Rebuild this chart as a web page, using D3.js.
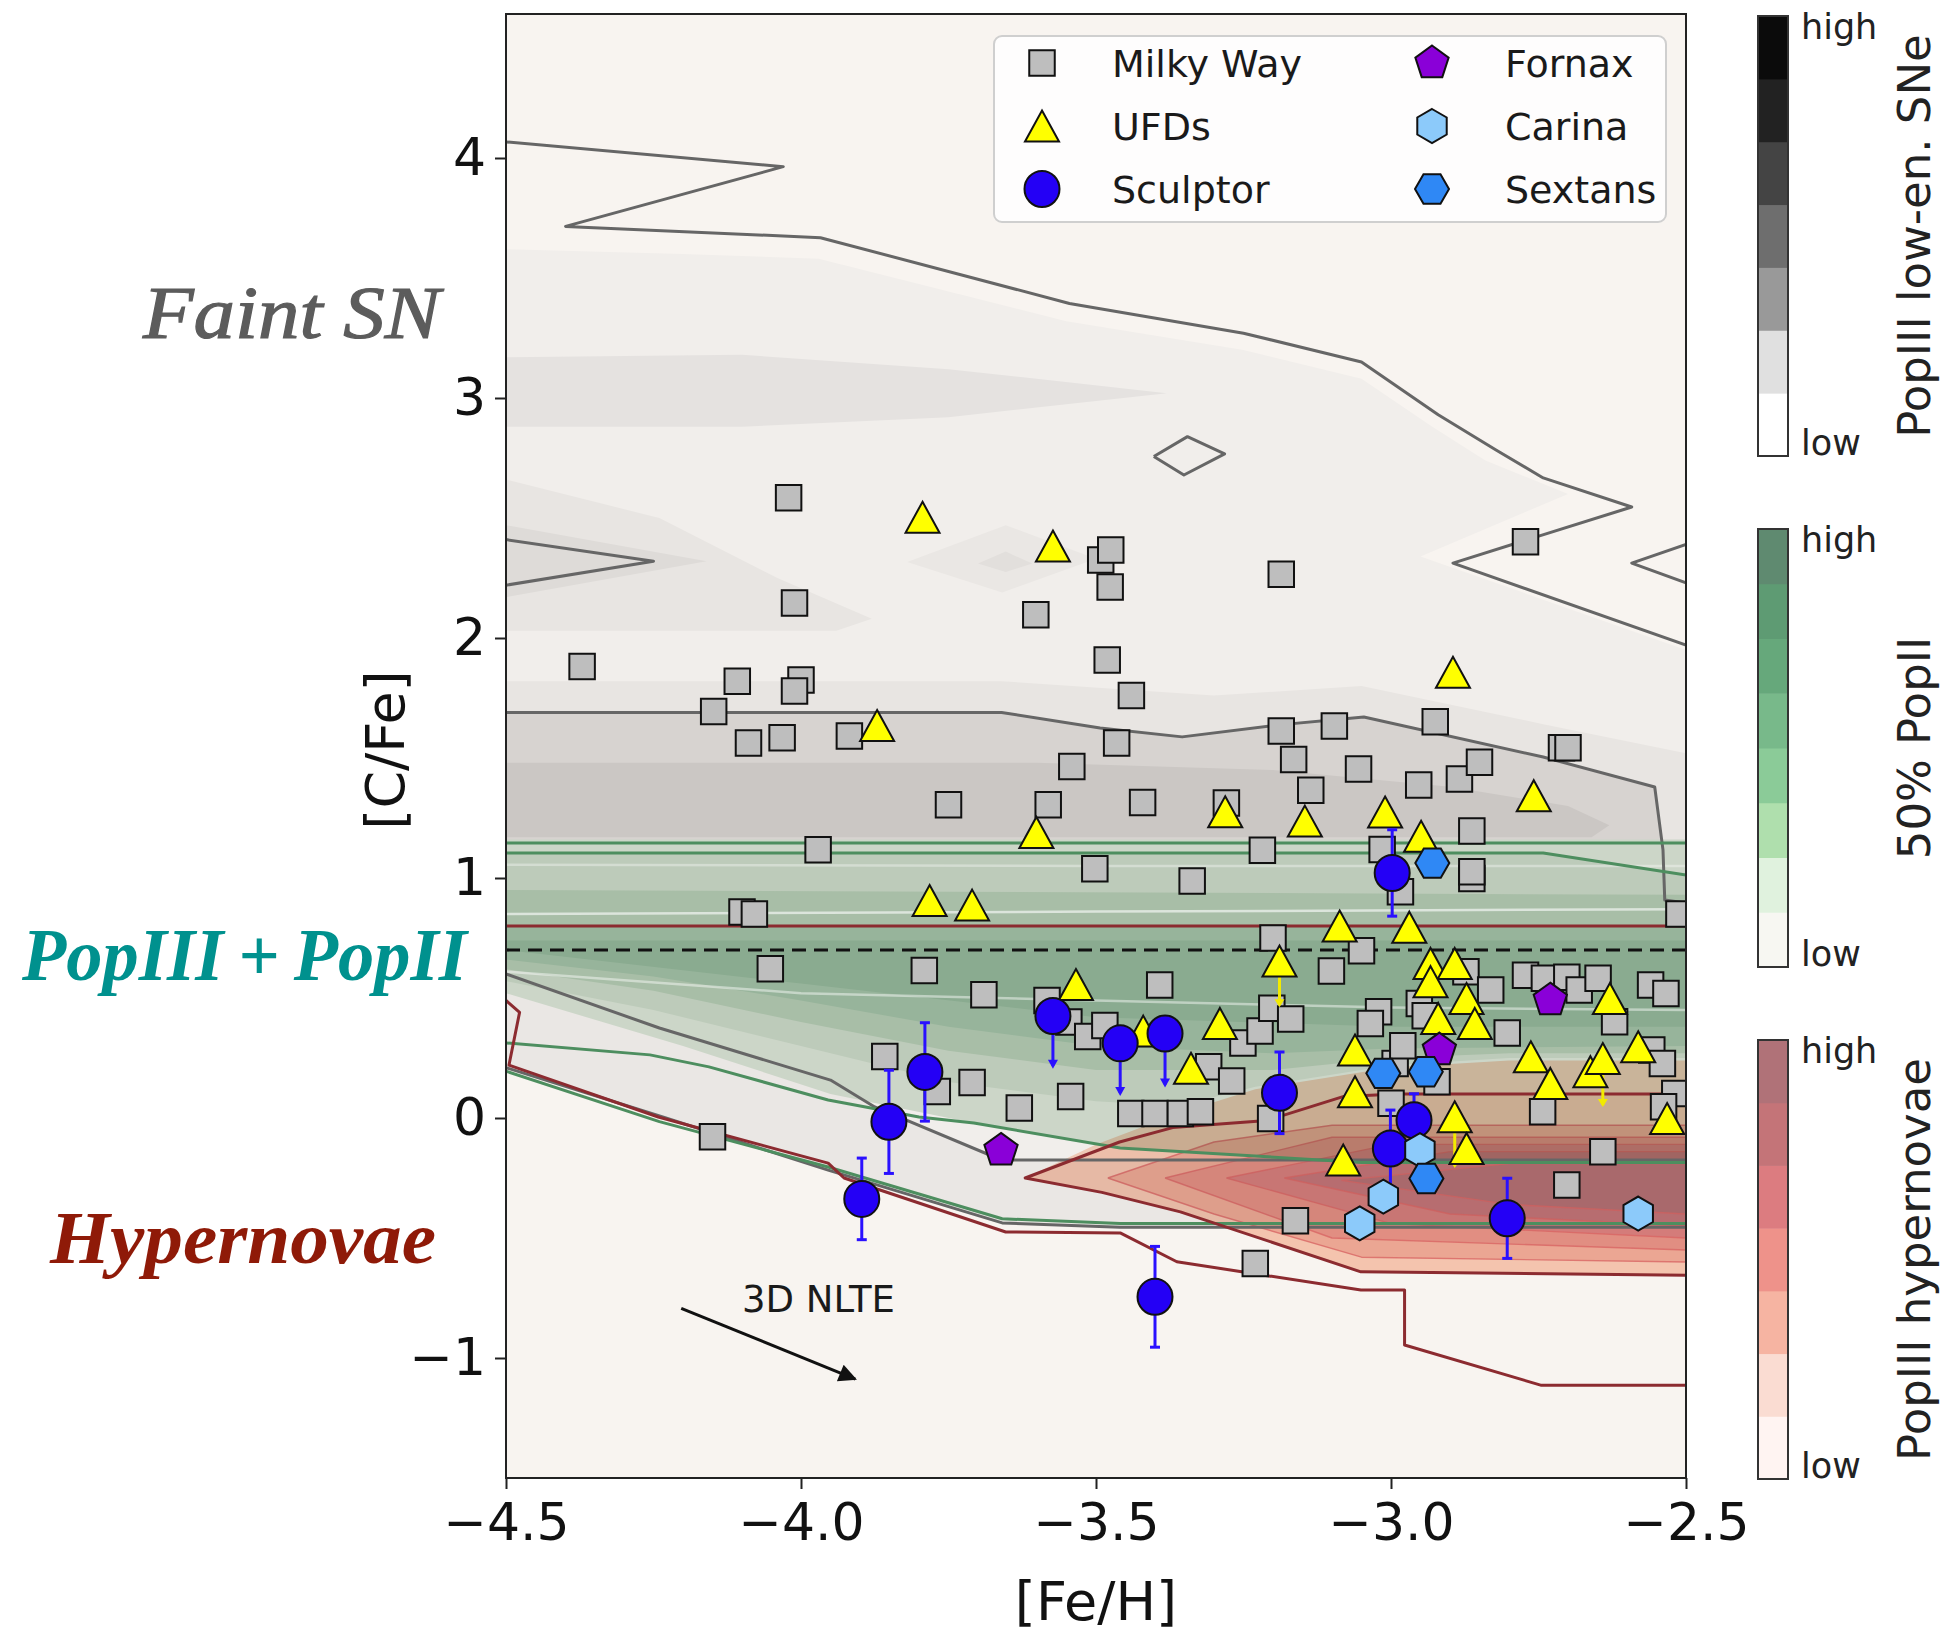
<!DOCTYPE html>
<html>
<head>
<meta charset="utf-8">
<script src="https://cdn.jsdelivr.net/npm/d3@7"></script>
<style>
  body { margin: 0; background: #ffffff; }
  svg { display: block; }
</style>
</head>
<body>
<svg id="chart" width="1949" height="1633"></svg>
<script>
// ---------------- Stellar abundances: [Fe/H] and [C/Fe] ----------------
const milkyWayFeH = [-4.371,-4.150,-4.148,-4.108,-4.100,-4.079,-4.089,-4.052,-4.032,-4.021,-4.011,-4.000,-4.011,-3.971,-3.918,-3.858,-3.791,-3.769,-3.750,-3.710,-3.690,-3.630,-3.602,-3.581,-3.583,-3.541,-3.543,-3.546,-3.514,-3.485,-3.502,-3.492,-3.475,-3.476,-3.481,-3.465,-3.440,-3.421,-3.441,-3.400,-3.392,-3.357,-3.337,-3.323,-3.279,-3.309,-3.270,-3.251,-3.222,-3.218,-3.204,-3.202,-3.200,-3.186,-3.186,-3.170,-3.165,-3.162,-3.136,-3.230,-3.101,-3.096,-3.055,-3.050,-3.021,-3.035,-3.015,-2.993,-2.984,-2.980,-3.000,-2.953,-2.952,-2.942,-2.925,-2.922,-2.884,-2.873,-2.863,-2.863,-2.863,-2.850,-2.831,-2.803,-2.772,-2.772,-2.743,-2.740,-2.711,-2.700,-2.702,-2.702,-2.681,-2.649,-2.641,-2.621,-2.560,-2.534,-2.558,-2.540,-2.519,-2.538,-2.512];
const milkyWayCFe = [1.881,-0.078,1.694,1.820,0.858,0.850,1.563,0.622,1.584,2.584,2.146,1.825,1.779,1.118,1.592,0.256,0.615,0.110,1.305,0.148,0.514,0.042,2.097,1.305,0.490,1.465,0.090,0.400,0.340,0.385,1.039,2.325,2.367,2.213,1.908,1.562,1.760,1.315,0.019,0.019,0.554,0.019,0.988,0.026,1.312,0.214,0.154,0.313,0.362,1.116,-0.002,0.457,0.750,2.266,1.612,0.412,1.494,-0.428,1.366,-0.606,0.612,1.633,1.454,0.697,0.443,0.394,1.119,0.227,0.943,0.301,0.061,1.387,0.477,0.426,1.651,0.151,1.412,0.609,1.196,0.998,1.026,1.482,0.533,0.354,2.401,0.595,0.026,0.582,1.543,1.543,0.586,-0.279,0.533,0.582,-0.141,0.401,0.554,0.519,0.283,0.227,0.102,0.047,0.850];

const ufdFeH = [-3.794,-3.573,-3.871,-2.895,-3.601,-3.281,-3.146,-3.010,-2.949,-2.758,-3.782,-3.710,-3.087,-2.969,-3.534,-3.420,-3.290,-3.339,-3.189,-3.061,-3.061,-3.081,-2.933,-2.892,-2.933,-2.872,-2.920,-2.858,-2.892,-2.872,-2.763,-2.730,-2.662,-2.641,-2.629,-2.581,-2.532];
const ufdCFe = [2.503,2.383,1.635,1.857,1.190,1.276,1.237,1.275,1.174,1.343,0.906,0.887,0.800,0.795,0.556,0.362,0.394,0.207,0.654,0.283,0.109,-0.175,0.644,0.644,0.568,0.498,0.415,0.394,0.005,-0.127,0.255,0.144,0.193,0.248,0.498,0.297,-0.002];
// UFD upper limits: star index and the [C/Fe] the limit arrow reaches
const ufdLimitIndex = [18, 28, 33];
const ufdLimitTo = [0.47, -0.20, 0.054];

const sculptorFeH = [-2.998,-3.573,-3.459,-3.383,-3.189,-2.961,-3.001,-2.803,-3.400,-3.790,-3.851,-3.897];
const sculptorCFe = [1.021,0.425,0.311,0.352,0.105,-0.009,-0.127,-0.418,-0.745,0.192,-0.016,-0.337];
const sculptorErr = [0.18,0.207,0.207,0.212,0.17,0.11,0.16,0.167,0.21,0.205,0.215,0.17];
const sculptorUpperLimit = [false,true,true,true,false,false,false,false,false,false,false,false];

const fornaxFeH = [-3.661,-2.918,-2.730];
const fornaxCFe = [-0.135,0.283,0.491];
const carinaFeH = [-2.951,-3.013,-3.053,-2.581];
const carinaCFe = [-0.134,-0.328,-0.439,-0.398];
const sextansFeH = [-3.013,-2.941,-2.940,-2.930];
const sextansCFe = [0.186,0.193,-0.252,1.062];

// ---------------- Model density contours ([Fe/H], [C/Fe]) ----------------
// PopIII low-energy (faint) supernovae
const faintFillOuter = [[-4.5,3.62],[-4.2,3.6],[-3.97,3.58],[-3.55,3.32],[-3.25,3.2],[-3.05,3.08],[-2.93,2.88],[-2.84,2.74],[-2.7,2.6],[-2.95,2.34],[-2.5,1.95],[-2.5,-0.455],[-3.459,-0.455],[-3.659,-0.437],[-3.954,-0.217],[-4.229,0.0],[-4.5,0.21]];
const faintFillBand3 = [[-4.5,3.17],[-4.1,3.18],[-3.75,3.12],[-3.38,3.02],[-3.75,2.92],[-4.1,2.88],[-4.5,2.88]];
const faintFillBand2 = [[-4.5,2.66],[-4.24,2.50],[-4.04,2.25],[-3.88,2.08],[-3.94,2.03],[-4.5,2.03]];
const faintFillWedge = [[-4.5,2.47],[-4.16,2.32],[-4.5,2.17]];
const faintFillDiamond = [[-3.82,2.317],[-3.653,2.47],[-3.50,2.33],[-3.659,2.19]];
const faintFillDiamondCore = [[-3.70,2.31],[-3.653,2.36],[-3.608,2.31],[-3.653,2.275]];
const faintFillBelt = [[-4.5,1.82],[-3.66,1.82],[-3.3,1.76],[-3.05,1.8],[-2.74,1.64],[-2.5,1.52],[-2.5,0.8],[-4.5,0.8]];
const faintFillCore = [[-4.5,1.69],[-3.66,1.69],[-3.493,1.625],[-3.354,1.588],[-3.19,1.638],[-3.046,1.671],[-2.742,1.504],[-2.553,1.379],[-2.539,1.117],[-2.536,0.908],[-2.5,0.896],[-2.5,0.8],[-4.5,0.8]];
const faintFillPeak = [[-4.5,1.48],[-3.6,1.48],[-3.2,1.45],[-2.9,1.38],[-2.7,1.3],[-2.63,1.22],[-2.66,1.17],[-4.5,1.17]];
const faintFillLobe = [[-4.5,0.6],[-4.24,0.375],[-3.95,0.158],[-3.875,0.046],[-3.66,-0.175],[-2.5,-0.175],[-2.5,-0.455],[-3.459,-0.455],[-3.659,-0.437],[-3.954,-0.217],[-4.229,0.0],[-4.5,0.21]];

const faintLines = [
  [[-4.5,4.067],[-4.03,3.964],[-4.399,3.715],[-3.967,3.668],[-3.545,3.394],[-3.25,3.27],[-3.05,3.15],[-2.92,2.93],[-2.822,2.783],[-2.742,2.667],[-2.592,2.546],[-2.895,2.312],[-2.5,1.97]],
  [[-4.5,2.41],[-4.25,2.32],[-4.5,2.22]],
  [[-2.5,2.39],[-2.592,2.312],[-2.5,2.23]],
  [[-3.402,2.756],[-3.345,2.839],[-3.282,2.767],[-3.351,2.679],[-3.402,2.756]],
  [[-4.5,1.69],[-3.66,1.69],[-3.493,1.625],[-3.354,1.588],[-3.19,1.638],[-3.046,1.671],[-2.742,1.504],[-2.553,1.379],[-2.539,1.117],[-2.536,0.908],[-2.5,0.896]],
  [[-4.5,0.6],[-4.24,0.375],[-3.95,0.158],[-3.875,0.046],[-3.66,-0.175],[-2.5,-0.175]],
  [[-4.5,0.21],[-4.229,0.0],[-3.954,-0.217],[-3.659,-0.437],[-3.459,-0.455],[-2.5,-0.455]]
];

// 50% PopII enrichment, lightest level first
const popIIFills = [
  [[-4.5,1.16],[-2.5,1.16],[-2.5,-0.19],[-3.05,-0.19],[-3.46,-0.12],[-3.71,-0.02],[-3.95,0.1],[-4.2,0.3],[-4.5,0.52]],
  [[-4.5,1.10],[-2.74,1.10],[-2.5,1.01],[-2.5,0.25],[-2.8,0.25],[-3.0,0.22],[-3.23,0.13],[-3.36,0.05],[-3.5,0.07],[-3.75,0.15],[-4.0,0.3],[-4.25,0.45],[-4.5,0.57]],
  [[-4.5,0.95],[-2.5,0.93],[-2.5,0.27],[-2.8,0.27],[-3.0,0.25],[-3.2,0.2],[-3.5,0.2],[-3.75,0.28],[-4.0,0.40],[-4.25,0.53],[-4.5,0.62]],
  [[-4.5,0.80],[-2.5,0.80],[-2.5,0.30],[-3.0,0.29],[-3.2,0.27],[-3.5,0.30],[-3.75,0.38],[-4.0,0.49],[-4.25,0.59],[-4.5,0.66]],
  [[-4.5,0.74],[-2.5,0.74],[-2.5,0.38],[-3.0,0.38],[-3.5,0.42],[-4.0,0.56],[-4.5,0.70]]
];
const popIIStreaks = [
  [[-4.5,1.055],[-3.5,1.05],[-2.5,1.05]],
  [[-4.5,0.85],[-3.5,0.86],[-2.5,0.87]],
  [[-4.5,0.61],[-4.0,0.52],[-3.5,0.49],[-3.0,0.46],[-2.5,0.45]]
];
const popIILines = [
  [[-4.5,1.146],[-2.5,1.146]],
  [[-4.5,1.104],[-2.742,1.104],[-2.5,1.012]],
  [[-4.5,0.313],[-4.256,0.263],[-4.156,0.213],[-3.954,0.075],[-3.80,0.004],[-3.707,-0.021],[-3.459,-0.125],[-3.05,-0.185],[-2.5,-0.185]],
  [[-4.5,0.195],[-4.24,-0.015],[-3.954,-0.204],[-3.659,-0.42],[-3.459,-0.44],[-2.5,-0.44]]
];

// PopIII hypernovae, outermost level first
const hyperFills = [
  [[-3.62,-0.25],[-3.5,-0.11],[-3.36,0.02],[-3.23,0.12],[-3.0,0.21],[-2.8,0.24],[-2.5,0.24],[-2.5,0.10],[-2.99,0.10],[-3.08,0.09],[-3.21,-0.01],[-3.37,-0.04],[-3.46,-0.10]],
  [[-3.62,-0.25],[-3.46,-0.10],[-3.37,-0.04],[-3.21,-0.01],[-3.08,0.09],[-2.99,0.10],[-2.5,0.10],[-2.5,-0.655],[-3.051,-0.641],[-3.357,-0.391],[-3.49,-0.31]],
  [[-3.48,-0.25],[-3.3,-0.10],[-3.1,-0.03],[-2.5,-0.03],[-2.5,-0.60],[-3.05,-0.58],[-3.3,-0.40]],
  [[-3.383,-0.25],[-3.1,-0.08],[-2.5,-0.08],[-2.5,-0.55],[-3.1,-0.50]],
  [[-3.279,-0.25],[-3.0,-0.11],[-2.5,-0.11],[-2.5,-0.50],[-3.0,-0.44]],
  [[-3.181,-0.25],[-2.9,-0.14],[-2.5,-0.14],[-2.5,-0.45],[-2.9,-0.40]],
  [[-3.084,-0.26],[-2.8,-0.19],[-2.5,-0.19],[-2.5,-0.40],[-2.8,-0.36]]
];
const hyperLines = [
  [[-4.5,0.8],[-2.5,0.8]],
  [[-4.5,0.49],[-4.477,0.44],[-4.495,0.22],[-4.242,0.004],[-3.954,-0.188],[-3.927,-0.25],[-3.653,-0.475],[-3.459,-0.479],[-3.363,-0.599],[-3.051,-0.717],[-2.977,-0.717],[-2.977,-0.946],[-2.745,-1.114],[-2.5,-1.114]],
  [[-2.5,0.10],[-2.99,0.10],[-3.08,0.09],[-3.21,-0.01],[-3.37,-0.04],[-3.46,-0.10],[-3.62,-0.25],[-3.49,-0.31],[-3.357,-0.391],[-3.051,-0.641],[-2.5,-0.655]]
];

const dividerCFe = 0.7;
const nlteArrow = [[-4.203,-0.793],[-3.908,-1.088]];
const nlteLabelAt = [-4.10, -0.81];

// axes and colour bars
const xTicks = [-4.5,-4.0,-3.5,-3.0,-2.5];
const yTicks = [-1,0,1,2,3,4];
const legendLabels = ["Milky Way","UFDs","Sculptor","Fornax","Carina","Sextans"];
const colorbarTitles = ["PopIII low-en. SNe","50% PopII","PopIII hypernovae"];
const lowEnergyLevels = ["#ffffff","#e0e0e0","#999999","#6e6e6e","#444444","#222222","#0b0b0b"];
const popIILevels = ["#f7f7f2","#e0f2de","#afdfad","#8bcb98","#78b98a","#66a87b","#5e9b73","#5f8a70"];
const hyperLevels = ["#fff4f2","#fadcd2","#f6b4a2","#ee928a","#dc7c80","#c47478","#b07278"];

// ---------------- drawing ----------------
const svg = d3.select("#chart");
const plotL = 506, plotR = 1686, plotT = 14, plotB = 1478;
const x = d3.scaleLinear().domain([-4.5, -2.5]).range([plotL, plotR]);
const y = d3.scaleLinear().domain([-1.5, 4.6]).range([plotB, plotT]);
const line = d3.line().x(d => x(d[0])).y(d => y(d[1]));

svg.append("rect").attr("width", 1949).attr("height", 1633).attr("fill", "#ffffff");

const defs = svg.append("defs");
defs.append("clipPath").attr("id", "plotClip")
  .append("rect").attr("x", plotL).attr("y", plotT).attr("width", plotR - plotL).attr("height", plotB - plotT);
defs.append("marker").attr("id", "arrowHead")
  .attr("viewBox", "0 0 10 10").attr("refX", 9).attr("refY", 5)
  .attr("markerWidth", 8).attr("markerHeight", 6).attr("markerUnits", "strokeWidth")
  .attr("orient", "auto")
  .append("path").attr("d", "M0,0L10,5L0,10Z").attr("fill", "#111");

const plot = svg.append("g").attr("clip-path", "url(#plotClip)");
plot.append("rect").attr("x", plotL).attr("y", plotT).attr("width", plotR - plotL).attr("height", plotB - plotT)
  .attr("fill", "#f8f4f0");

function fillShape(g, pts, color) {
  return g.append("path").attr("d", line(pts) + "Z").attr("fill", color);
}
function strokeShape(g, pts, color, w) {
  return g.append("path").attr("d", line(pts)).attr("fill", "none")
    .attr("stroke", color).attr("stroke-width", w)
    .attr("stroke-linejoin", "round").attr("stroke-linecap", "butt");
}

// faint SN density
const faintG = plot.append("g");
fillShape(faintG, faintFillOuter, "#f1eeeb");
fillShape(faintG, faintFillBand3, "#e5e2e0");
fillShape(faintG, faintFillBand2, "#e8e5e2");
fillShape(faintG, faintFillWedge, "#dedbd8");
fillShape(faintG, faintFillDiamond, "#eae7e4");
fillShape(faintG, faintFillDiamondCore, "#e2dfdc");
fillShape(faintG, faintFillBelt, "#e8e5e2");
fillShape(faintG, faintFillCore, "#d7d3d0");
fillShape(faintG, faintFillPeak, "#cbc7c4");
fillShape(faintG, faintFillLobe, "#eae7e4");

// PopII mixture density
const popIIColors = ["#ccd6c8", "#bdcbba", "#a8bea7", "#97b49b", "#8aab90"];
const popG = plot.append("g");
popIIFills.forEach((p, i) => fillShape(popG, p, popIIColors[i]));
popIIStreaks.forEach((p, i) => strokeShape(popG, p, "#ffffff", 2.5).attr("opacity", [0.35, 0.6, 0.45][i]));

// hypernova density (multiplied onto the layers beneath)
const hyperColors = ["#fcd7c5", "#fbcdb9", "#f2ae9c", "#e8948a", "#da8282", "#c8787d", "#b87479"];
const hypG = plot.append("g").style("mix-blend-mode", "multiply");
hyperFills.forEach((p, i) => fillShape(hypG, p, hyperColors[i]));
hyperFills.slice(2).forEach(p => strokeShape(hypG, p.concat([p[0]]), "#e06a6a", 1.4).attr("opacity", 0.8));

// contour lines
const lineG = plot.append("g");
faintLines.forEach(p => strokeShape(lineG, p, "#666666", 3));
popIILines.forEach(p => strokeShape(lineG, p, "#4d8e5f", 3));
hyperLines.forEach(p => strokeShape(lineG, p, "#8c2b30", 3));
lineG.append("line")
  .attr("x1", x(-4.5)).attr("x2", x(-2.5)).attr("y1", y(dividerCFe)).attr("y2", y(dividerCFe))
  .attr("stroke", "#111").attr("stroke-width", 3.2).attr("stroke-dasharray", "14,8");

// 3D NLTE correction arrow
lineG.append("line")
  .attr("x1", x(nlteArrow[0][0])).attr("y1", y(nlteArrow[0][1]))
  .attr("x2", x(nlteArrow[1][0])).attr("y2", y(nlteArrow[1][1]))
  .attr("stroke", "#111").attr("stroke-width", 3).attr("marker-end", "url(#arrowHead)");
svg.append("text").attr("x", x(nlteLabelAt[0])).attr("y", y(nlteLabelAt[1]))
  .attr("font-family", "DejaVu Sans").attr("font-size", 37).attr("fill", "#1a1a1a")
  .text("3D NLTE");

// marker shapes
function squarePath(s) { const h = s / 2; return `M${-h},${-h}H${h}V${h}H${-h}Z`; }
function trianglePath(w, h) { return `M0,${-h / 2}L${w / 2},${h / 2}L${-w / 2},${h / 2}Z`; }
function polygonPath(n, r, rot) {
  const pts = d3.range(n).map(i => {
    const a = rot + i * 2 * Math.PI / n;
    return [r * Math.cos(a), r * Math.sin(a)];
  });
  return "M" + pts.map(p => p.join(",")).join("L") + "Z";
}
const shapes = {
  mw: squarePath(25.5),
  ufd: trianglePath(34, 31),
  scl: null,
  fnx: polygonPath(5, 17.5, -Math.PI / 2),
  car: polygonPath(6, 17, -Math.PI / 2),
  sex: polygonPath(6, 17, 0)
};
const styles = {
  mw: "#bebebe", ufd: "#ffff00", scl: "#2400f5", fnx: "#8a00d8", car: "#8ccafa", sex: "#2f88f5"
};
function drawMarker(g, key, cx, cy) {
  if (key === "scl") {
    return g.append("ellipse").attr("cx", cx).attr("cy", cy).attr("rx", 17.5).attr("ry", 18)
      .attr("fill", styles.scl).attr("stroke", "#111").attr("stroke-width", 2);
  }
  return g.append("path").attr("d", shapes[key]).attr("transform", `translate(${cx},${cy})`)
    .attr("fill", styles[key]).attr("stroke", "#111").attr("stroke-width", 2)
    .attr("stroke-linejoin", "miter");
}

const markG = plot.append("g");
milkyWayFeH.forEach((f, i) => drawMarker(markG, "mw", x(f), y(milkyWayCFe[i])));

// UFD upper limits
ufdLimitIndex.forEach((k, j) => {
  const cx = x(ufdFeH[k]), y0 = y(ufdCFe[k]), y1 = y(ufdLimitTo[j]);
  markG.append("line").attr("x1", cx).attr("x2", cx).attr("y1", y0).attr("y2", y1)
    .attr("stroke", "#f2ea00").attr("stroke-width", 3);
  markG.append("path").attr("d", `M${cx - 5},${y1 - 6}L${cx + 5},${y1 - 6}L${cx},${y1 + 2}Z`)
    .attr("fill", "#f2ea00");
});
ufdFeH.forEach((f, i) => drawMarker(markG, "ufd", x(f), y(ufdCFe[i])));

// Sculptor error bars and upper limits
const errColor = "#2a10ff";
sculptorFeH.forEach((f, i) => {
  const cx = x(f), c = sculptorCFe[i], e = sculptorErr[i];
  if (sculptorUpperLimit[i]) {
    const y1 = y(c - e);
    markG.append("line").attr("x1", cx).attr("x2", cx).attr("y1", y(c)).attr("y2", y1)
      .attr("stroke", errColor).attr("stroke-width", 3);
    markG.append("path").attr("d", `M${cx - 5},${y1 - 6}L${cx + 5},${y1 - 6}L${cx},${y1 + 3}Z`)
      .attr("fill", errColor);
  } else {
    const ya = y(c + e), yb = y(c - e);
    markG.append("line").attr("x1", cx).attr("x2", cx).attr("y1", ya).attr("y2", yb)
      .attr("stroke", errColor).attr("stroke-width", 3);
    [ya, yb].forEach(yy => markG.append("line").attr("x1", cx - 5).attr("x2", cx + 5)
      .attr("y1", yy).attr("y2", yy).attr("stroke", errColor).attr("stroke-width", 3));
  }
});
sculptorFeH.forEach((f, i) => drawMarker(markG, "scl", x(f), y(sculptorCFe[i])));
fornaxFeH.forEach((f, i) => drawMarker(markG, "fnx", x(f), y(fornaxCFe[i])));
carinaFeH.forEach((f, i) => drawMarker(markG, "car", x(f), y(carinaCFe[i])));
sextansFeH.forEach((f, i) => drawMarker(markG, "sex", x(f), y(sextansCFe[i])));

// frame
svg.append("rect").attr("x", plotL).attr("y", plotT).attr("width", plotR - plotL).attr("height", plotB - plotT)
  .attr("fill", "none").attr("stroke", "#222").attr("stroke-width", 2);

// axes
const fmtTick = d => (d < 0 ? "\u2212" : "") + Math.abs(d);
const yAxis = svg.append("g").attr("transform", `translate(${plotL},0)`)
  .call(d3.axisLeft(y).tickValues(yTicks).tickSize(11).tickPadding(9).tickFormat(fmtTick));
const xAxis = svg.append("g").attr("transform", `translate(0,${plotB})`)
  .call(d3.axisBottom(x).tickValues(xTicks).tickSize(11).tickPadding(14)
    .tickFormat(d => (d < 0 ? "\u2212" : "") + Math.abs(d).toFixed(1)));
[xAxis, yAxis].forEach(a => {
  a.select(".domain").remove();
  a.selectAll(".tick line").attr("stroke", "#222").attr("stroke-width", 2);
  a.selectAll(".tick text").attr("font-family", "DejaVu Sans").attr("font-size", 52).attr("fill", "#111");
});

svg.append("text").attr("x", (plotL + plotR) / 2).attr("y", 1620).attr("text-anchor", "middle")
  .attr("font-family", "DejaVu Sans").attr("font-size", 54).attr("fill", "#111").text("[Fe/H]");
svg.append("text").attr("transform", "translate(404,750) rotate(-90)").attr("text-anchor", "middle")
  .attr("font-family", "DejaVu Sans").attr("font-size", 54).attr("fill", "#111").text("[C/Fe]");

// channel annotations
const notes = [
  { t: "Faint SN", x: 143, y: 338, w: 297, c: "#5c5c5c", b: "normal", s: 1.2 },
  { t: "PopIII\u2009+\u2009PopII", x: 22, y: 980, w: 445, c: "#00918e", b: "bold", s: 0 },
  { t: "Hypernovae", x: 50, y: 1263, w: 386, c: "#8f1a08", b: "bold", s: 0 }
];
notes.forEach(n => svg.append("text").attr("x", n.x).attr("y", n.y)
  .attr("font-family", "Liberation Serif").attr("font-style", "italic").attr("font-weight", n.b)
  .attr("font-size", 74).attr("fill", n.c)
  .attr("stroke", n.c).attr("stroke-width", n.s)
  .attr("textLength", n.w).attr("lengthAdjust", "spacingAndGlyphs").text(n.t));

// legend
const lg = svg.append("g");
lg.append("rect").attr("x", 994).attr("y", 36).attr("width", 672).attr("height", 186).attr("rx", 8)
  .attr("fill", "#ffffff").attr("fill-opacity", 0.82).attr("stroke", "#cfcfcf").attr("stroke-width", 2);
const legendKeys = ["mw", "ufd", "scl", "fnx", "car", "sex"];
legendKeys.forEach((k, i) => {
  const col = Math.floor(i / 3), row = i % 3;
  const mx = col === 0 ? 1042 : 1432, ty = 63 + row * 63;
  drawMarker(lg, k, mx, ty);
  lg.append("text").attr("x", col === 0 ? 1112 : 1505).attr("y", ty).attr("dy", "0.36em")
    .attr("font-family", "DejaVu Sans").attr("font-size", 38).attr("fill", "#1a1a1a")
    .text(legendLabels[i]);
});

// colour bars
const bars = [
  { levels: lowEnergyLevels, y0: 16, y1: 456 },
  { levels: popIILevels, y0: 529, y1: 967 },
  { levels: hyperLevels, y0: 1040, y1: 1479 }
];
bars.forEach((b, j) => {
  const g = svg.append("g");
  const band = d3.scaleBand().domain(d3.range(b.levels.length)).range([b.y1, b.y0]);
  b.levels.forEach((c, k) => g.append("rect").attr("x", 1758).attr("width", 30)
    .attr("y", band(k)).attr("height", band.bandwidth() + 0.5).attr("fill", c));
  g.append("rect").attr("x", 1758).attr("y", b.y0).attr("width", 30).attr("height", b.y1 - b.y0)
    .attr("fill", "none").attr("stroke", "#333").attr("stroke-width", 2);
  g.append("text").attr("x", 1801).attr("y", b.y0 + 23).attr("font-family", "DejaVu Sans")
    .attr("font-size", 35).attr("fill", "#222").text("high");
  g.append("text").attr("x", 1801).attr("y", b.y1 - 1).attr("font-family", "DejaVu Sans")
    .attr("font-size", 35).attr("fill", "#222").text("low");
  g.append("text").attr("transform", `translate(1930,${(b.y0 + b.y1) / 2}) rotate(-90)`)
    .attr("text-anchor", "middle").attr("font-family", "DejaVu Sans").attr("font-size", 45)
    .attr("fill", "#222").text(colorbarTitles[j]);
});
</script>
</body>
</html>
